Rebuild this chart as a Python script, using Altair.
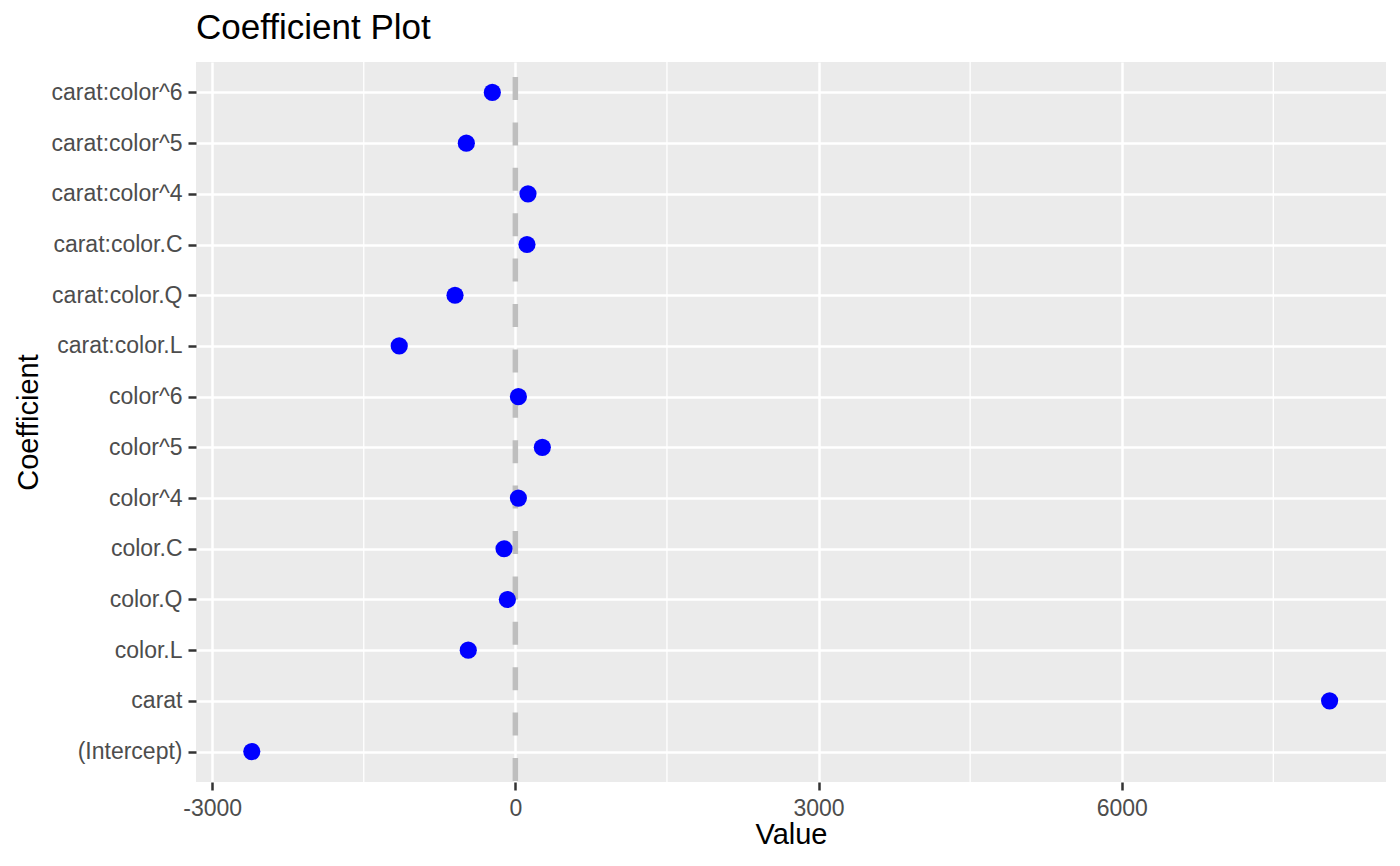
import altair as alt
import pandas as pd

coefs = ["carat:color^6", "carat:color^5", "carat:color^4", "carat:color.C",
         "carat:color.Q", "carat:color.L", "color^6", "color^5", "color^4",
         "color.C", "color.Q", "color.L", "carat", "(Intercept)"]
values = [-228, -485, 125, 115, -597, -1149, 30, 267, 30, -112, -79, -466, 8057, -2608]

major_ticks = [-3000, 0, 3000, 6000]
minor_ticks = [-1500, 1500, 4500, 7500]
x_domain = [-3160, 8615]

df = pd.DataFrame({"coef": coefs, "value": values})
minor_df = pd.DataFrame({"v": minor_ticks})
zero_df = pd.DataFrame({"v": [0]})

FONT = "Liberation Sans"

xscale = alt.Scale(domain=x_domain, nice=False, zero=False)

minor = alt.Chart(minor_df).mark_rule(color="white", strokeWidth=1.3).encode(
    x=alt.X("v:Q", scale=xscale)
)

zero = alt.Chart(zero_df).mark_rule(
    color="#BEBEBE", strokeWidth=5.5, strokeDash=[23, 22.4], strokeDashOffset=30.4
).encode(x=alt.X("v:Q", scale=xscale))

points = alt.Chart(df).mark_circle(size=295, color="#0000FF", opacity=1).encode(
    x=alt.X("value:Q", scale=xscale, title="Value",
            axis=alt.Axis(values=major_ticks, labelExpr="'' + datum.value",
                          titlePadding=0, labelPadding=7)),
    y=alt.Y("coef:N", sort=coefs, scale=alt.Scale(type="point", padding=0.6),
            title="Coefficient",
            axis=alt.Axis(labelPadding=6, titlePadding=8)),
)

chart = alt.layer(minor, zero, points).properties(
    width=1190, height=720,
    title=alt.TitleParams("Coefficient Plot", anchor="start", frame="group",
                          fontSize=35, font=FONT, fontWeight="normal",
                          color="black", offset=13),
    padding={"left": 6, "top": 3, "right": 2, "bottom": 0},
).configure_view(
    fill="#EBEBEB", stroke=None
).configure_axis(
    domain=False, grid=True, gridColor="white", gridWidth=2.5,
    tickColor="#333333", tickWidth=2.5, tickSize=8,
    labelColor="#4D4D4D", labelFontSize=23, labelFont=FONT,
    titleColor="black", titleFontSize=29, titleFont=FONT, titleFontWeight="normal",
)

chart.save("out.html", embed_options={"renderer": "svg", "actions": False})
